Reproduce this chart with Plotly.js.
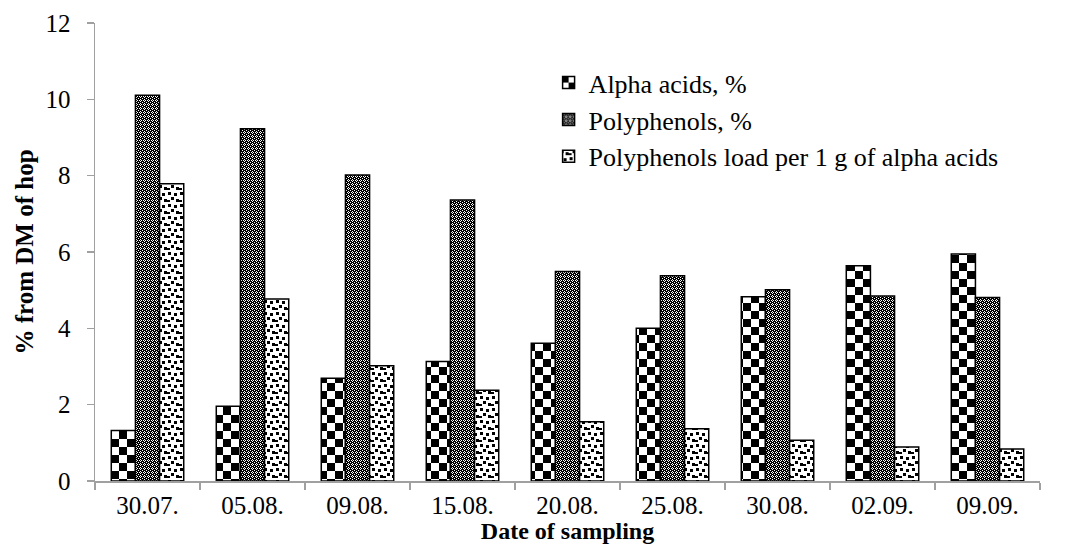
<!DOCTYPE html>
<html>
<head>
<meta charset="utf-8">
<script src="https://cdn.plot.ly/plotly-3.0.1.min.js"></script>
<style>html,body{margin:0;padding:0;background:#fff;}#chart{width:1071px;height:544px;}</style>
</head>
<body>
<div id="chart"></div>
<script>
const dates = ["30.07.", "05.08.", "09.08.", "15.08.", "20.08.", "25.08.", "30.08.", "02.09.", "09.09."];
const alphaAcids = [1.32, 1.96, 2.69, 3.13, 3.61, 4.00, 4.83, 5.64, 5.95];
const polyphenols = [10.11, 9.23, 8.02, 7.36, 5.49, 5.38, 5.01, 4.85, 4.81];
const polyLoad = [7.79, 4.77, 3.02, 2.38, 1.55, 1.37, 1.07, 0.89, 0.84];
const seriesNames = ["Alpha acids, %", "Polyphenols, %", "Polyphenols load per 1 g of alpha acids"];
const yTicks = [0, 2, 4, 6, 8, 10, 12];

const serif = "Liberation Serif";
function barTrace(name, vals, shape) {
  return {
    type: "bar", name: name, x: dates, y: vals,
    marker: {color: "#ffffff", line: {color: "#000000", width: 1.5},
             pattern: {shape: shape, fgcolor: "#000", bgcolor: "#fff", solidity: 0.5, size: 8}},
    hoverinfo: "skip"
  };
}
const data = [
  barTrace(seriesNames[0], alphaAcids, "+"),
  barTrace(seriesNames[1], polyphenols, "x"),
  barTrace(seriesNames[2], polyLoad, ".")
];
const axisGray = "#a0a0a0";
const layout = {
  width: 1071, height: 544,
  margin: {l: 95, r: 31, t: 23, b: 63},
  paper_bgcolor: "#fff", plot_bgcolor: "#fff",
  barmode: "group", bargap: 0.31, bargroupgap: 0,
  font: {family: serif, color: "#000", size: 25},
  showlegend: true,
  legend: {x: 0.48, y: 0.921, xanchor: "left", yanchor: "top", bgcolor: "rgba(0,0,0,0)",
           font: {family: serif, size: 26, color: "#000"}, itemwidth: 30, tracegroupgap: 0},
  xaxis: {type: "category", showgrid: false, zeroline: false, showline: true, linecolor: axisGray, linewidth: 1.5,
          ticks: "outside", tickson: "boundaries", ticklen: 7, tickcolor: axisGray, tickwidth: 1.5,
          tickfont: {family: serif, size: 25, color: "#000"}, ticklabelstandoff: 1,
          title: {text: "<b>Date of sampling</b>", font: {family: serif, size: 24, color: "#000"}, standoff: 6}},
  yaxis: {range: [0, 12], tickvals: yTicks, ticktext: yTicks.map(String), showgrid: false, zeroline: false,
          showline: true, linecolor: axisGray, linewidth: 1.5, ticks: "outside", ticklen: 7,
          tickcolor: axisGray, tickwidth: 1.5, tickfont: {family: serif, size: 25, color: "#000"},
          ticklabelstandoff: 11,
          title: {text: "<b>% from DM of hop</b>", font: {family: serif, size: 25, color: "#000"}, standoff: 5}}
};

function addPatterns(gd) {
  const svg = gd.querySelector("svg.main-svg");
  const ns = "http://www.w3.org/2000/svg";
  let defs = svg.querySelector("defs");
  if (!defs) { defs = document.createElementNS(ns, "defs"); svg.insertBefore(defs, svg.firstChild); }
  function mk(id, w, h, bg, fg, rects) {
    const p = document.createElementNS(ns, "pattern");
    p.setAttribute("id", id); p.setAttribute("width", w); p.setAttribute("height", h);
    p.setAttribute("patternUnits", "userSpaceOnUse");
    const r0 = document.createElementNS(ns, "rect");
    r0.setAttribute("width", w); r0.setAttribute("height", h); r0.setAttribute("fill", bg);
    p.appendChild(r0);
    rects.forEach(function (r) {
      const e = document.createElementNS(ns, "rect");
      e.setAttribute("x", r[0]); e.setAttribute("y", r[1]); e.setAttribute("width", r[2]); e.setAttribute("height", r[3]);
      e.setAttribute("fill", fg); p.appendChild(e);
    });
    defs.appendChild(p);
  }
  mk("patChecker", 16, 16, "#fff", "#000", [[0, 0, 8, 8], [8, 8, 8, 8]]);
  mk("patPoly", 4, 4, "#000", "#fff", [[1, 0, 1, 1], [0, 1, 1, 1], [2, 1, 1, 1], [1, 2, 1, 1], [3, 3, 1, 1]]);
  mk("patLoad", 12, 12, "#fff", "#000", [[1, 1, 3, 3], [7, 2, 3, 3], [4, 6, 3, 3], [9, 8, 3, 3], [0, 9, 3, 2]]);
  const ids = ["patChecker", "patPoly", "patLoad"];
  gd.querySelectorAll(".barlayer .trace.bars").forEach(function (g, i) {
    g.querySelectorAll("path").forEach(function (p) { p.style.fill = "url(#" + ids[i] + ")"; p.style.fillOpacity = 1; });
  });
  gd.querySelectorAll(".legend .traces").forEach(function (g, i) {
    g.querySelectorAll(".legendpoints path").forEach(function (p) { p.style.fill = "url(#" + ids[i] + ")"; p.style.fillOpacity = 1; });
  });
}

Plotly.newPlot("chart", data, layout, {staticPlot: true, displayModeBar: false}).then(addPatterns);
</script>
</body>
</html>
